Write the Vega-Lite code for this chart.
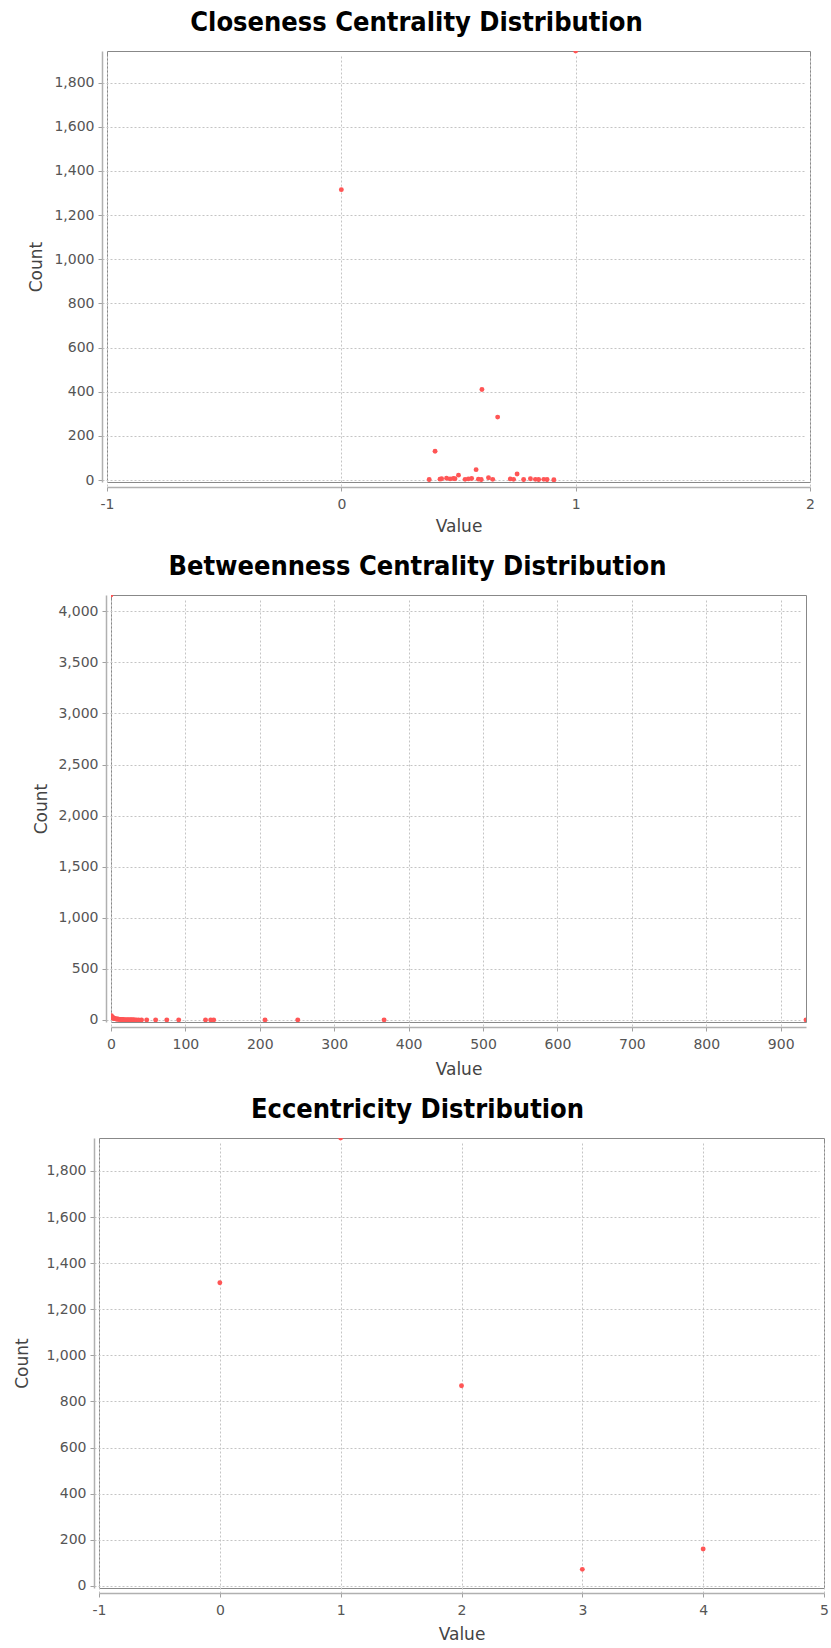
{
  "$schema": "https://vega.github.io/schema/vega-lite/v6.json",
  "background": "white",
  "padding": {"left": 0, "top": 8, "right": 0, "bottom": 0},
  "spacing": 17,
  "config": {
    "view": {"stroke": "#888888", "strokeWidth": 1},
    "axis": {
      "domainColor": "#b0b0b0",
      "domainWidth": 1.5,
      "tickColor": "#a0a0a0",
      "tickSize": 4,
      "labelFont": "DejaVu Sans",
      "labelFontSize": 14,
      "labelColor": "#555555",
      "labelPadding": 4,
      "labelFlush": false,
      "labelOverlap": false,
      "titleFont": "DejaVu Sans",
      "titleFontSize": 17,
      "titleFontWeight": "normal",
      "titleColor": "#444444",
      "gridColor": "#c4c4c4",
      "gridDash": [2, 2],
      "gridWidth": 1,
      "offset": 5
    },
    "axisX": {"labelPadding": 6, "titlePadding": 7},
    "axisY": {"titleBaseline": "middle", "minExtent": 85, "maxExtent": 85},
    "title": {
      "font": "Liberation Sans Narrow, DejaVu Sans Condensed, DejaVu Sans",
      "fontSize": 27,
      "fontWeight": "bold",
      "color": "#000000",
      "anchor": "middle",
      "frame": "group",
      "offset": 14
    }
  },
  "datasets": {
    "closeness": [
      {"value": 0, "count": 1315},
      {"value": 1, "count": 1943},
      {"value": 0.6, "count": 410},
      {"value": 0.667, "count": 285},
      {"value": 0.4, "count": 130},
      {"value": 0.5, "count": 22},
      {"value": 0.575, "count": 47},
      {"value": 0.75, "count": 27},
      {"value": 0.375, "count": 2},
      {"value": 0.421, "count": 4},
      {"value": 0.428, "count": 6},
      {"value": 0.449, "count": 8},
      {"value": 0.464, "count": 5},
      {"value": 0.478, "count": 7},
      {"value": 0.485, "count": 6},
      {"value": 0.528, "count": 3},
      {"value": 0.542, "count": 5},
      {"value": 0.556, "count": 7},
      {"value": 0.585, "count": 4},
      {"value": 0.597, "count": 2},
      {"value": 0.628, "count": 10},
      {"value": 0.646, "count": 3},
      {"value": 0.721, "count": 5},
      {"value": 0.735, "count": 3},
      {"value": 0.778, "count": 2},
      {"value": 0.807, "count": 6},
      {"value": 0.828, "count": 3},
      {"value": 0.842, "count": 2},
      {"value": 0.864, "count": 3},
      {"value": 0.878, "count": 2},
      {"value": 0.907, "count": 1}
    ],
    "betweenness": [
      {"value": 0, "count": 4159},
      {"value": 0.5, "count": 42},
      {"value": 1, "count": 33},
      {"value": 1.5, "count": 28},
      {"value": 2, "count": 24},
      {"value": 2.5, "count": 21},
      {"value": 3, "count": 19},
      {"value": 3.5, "count": 17},
      {"value": 4, "count": 15},
      {"value": 5, "count": 13},
      {"value": 6, "count": 11},
      {"value": 7, "count": 10},
      {"value": 8, "count": 9},
      {"value": 9, "count": 8},
      {"value": 10, "count": 7},
      {"value": 11, "count": 6},
      {"value": 12, "count": 6},
      {"value": 13, "count": 5},
      {"value": 14, "count": 5},
      {"value": 15, "count": 4},
      {"value": 16, "count": 4},
      {"value": 18, "count": 3},
      {"value": 20, "count": 3},
      {"value": 22, "count": 3},
      {"value": 24, "count": 2},
      {"value": 26, "count": 2},
      {"value": 28, "count": 2},
      {"value": 30, "count": 2},
      {"value": 32, "count": 1},
      {"value": 34, "count": 1},
      {"value": 37, "count": 1},
      {"value": 41, "count": 1},
      {"value": 48, "count": 1},
      {"value": 60, "count": 1},
      {"value": 75, "count": 1},
      {"value": 91, "count": 1},
      {"value": 127, "count": 1},
      {"value": 134, "count": 1},
      {"value": 138, "count": 1},
      {"value": 207, "count": 1},
      {"value": 251, "count": 1},
      {"value": 367, "count": 1},
      {"value": 934, "count": 1}
    ],
    "eccentricity": [
      {"value": 0, "count": 1315},
      {"value": 1, "count": 1943},
      {"value": 2, "count": 868},
      {"value": 3, "count": 72},
      {"value": 4, "count": 160}
    ],
    "none": []
  },
  "vconcat": [
    {
      "spacing": 0,
      "hconcat": [
        {"width": 16, "height": 1, "data": {"name": "none"}, "mark": "point", "view": {"stroke": null}},
        {
          "title": {"text": "Closeness Centrality Distribution", "dx": -42},
          "width": 703,
          "height": 431,
          "data": {"name": "closeness"},
          "mark": {"type": "circle", "size": 24, "color": "#ff5555", "opacity": 1, "clip": true},
          "encoding": {
            "x": {
              "field": "value", "type": "quantitative",
              "scale": {"domain": [-1, 2], "nice": false, "zero": false},
              "axis": {"values": [-1, 0, 1, 2], "title": "Value", "labelExpr": "toString(datum.value)"}
            },
            "y": {
              "field": "count", "type": "quantitative",
              "scale": {"domain": [-9, 1943], "nice": false, "zero": false},
              "axis": {"values": [0, 200, 400, 600, 800, 1000, 1200, 1400, 1600, 1800], "format": ",d", "title": "Count", "titleX": -66}
            }
          }
        }
      ]
    },
    {
      "spacing": 0,
      "hconcat": [
        {"width": 20, "height": 1, "data": {"name": "none"}, "mark": "point", "view": {"stroke": null}},
        {
          "title": {"text": "Betweenness Centrality Distribution", "dx": -41},
          "width": 695,
          "height": 427,
          "data": {"name": "betweenness"},
          "mark": {"type": "circle", "size": 24, "color": "#ff5555", "opacity": 1, "clip": true},
          "encoding": {
            "x": {
              "field": "value", "type": "quantitative",
              "scale": {"domain": [0, 934], "nice": false, "zero": false},
              "axis": {"values": [0, 100, 200, 300, 400, 500, 600, 700, 800, 900], "title": "Value", "titlePadding": 10, "labelExpr": "toString(datum.value)"}
            },
            "y": {
              "field": "count", "type": "quantitative",
              "scale": {"domain": [-20, 4159], "nice": false, "zero": false},
              "axis": {"values": [0, 500, 1000, 1500, 2000, 2500, 3000, 3500, 4000], "format": ",d", "title": "Count", "titleX": -65}
            }
          }
        }
      ]
    },
    {
      "spacing": 0,
      "hconcat": [
        {"width": 8, "height": 1, "data": {"name": "none"}, "mark": "point", "view": {"stroke": null}},
        {
          "title": {"text": "Eccentricity Distribution", "dx": -44},
          "width": 725,
          "height": 450,
          "data": {"name": "eccentricity"},
          "mark": {"type": "circle", "size": 24, "color": "#ff5555", "opacity": 1, "clip": true},
          "encoding": {
            "x": {
              "field": "value", "type": "quantitative",
              "scale": {"domain": [-1, 5], "nice": false, "zero": false},
              "axis": {"values": [-1, 0, 1, 2, 3, 4, 5], "title": "Value", "titlePadding": 9, "labelExpr": "toString(datum.value)"}
            },
            "y": {
              "field": "count", "type": "quantitative",
              "scale": {"domain": [-9, 1943], "nice": false, "zero": false},
              "axis": {"values": [0, 200, 400, 600, 800, 1000, 1200, 1400, 1600, 1800], "format": ",d", "title": "Count", "titleX": -72}
            }
          }
        }
      ]
    }
  ]
}
